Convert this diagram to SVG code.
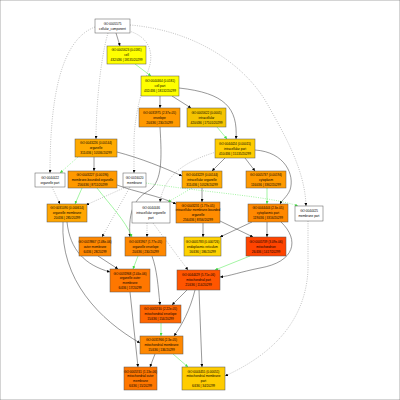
<svg xmlns="http://www.w3.org/2000/svg" width="400" height="400" viewBox="0 0 400 400">
<defs>
<marker id="ab" viewBox="0 0 10 10" refX="10" refY="5" markerWidth="3" markerHeight="3" orient="auto" markerUnits="userSpaceOnUse"><path d="M0,0 L10,5 L0,10 z" fill="#000"/></marker>
<marker id="ag" viewBox="0 0 10 10" refX="10" refY="5" markerWidth="3" markerHeight="3" orient="auto" markerUnits="userSpaceOnUse"><path d="M0,0 L10,5 L0,10 z" fill="#44dd44"/></marker>
</defs>
<style>
rect{stroke:#555;stroke-width:0.5}
text{font-family:"Liberation Sans",Arial,sans-serif;font-size:3.1px;text-anchor:middle;fill:#000}
.e{fill:none;stroke:#444;stroke-width:0.55;marker-end:url(#ab)}
.g{fill:none;stroke:#66ee66;stroke-width:0.6;marker-end:url(#ag)}
.d{fill:none;stroke:#999;stroke-width:0.6;stroke-dasharray:1 1.3;marker-end:url(#ab)}
.gd{fill:none;stroke:#66ee66;stroke-width:0.6;stroke-dasharray:1 1.3;marker-end:url(#ag)}
</style>
<rect width="400" height="400" fill="#fff" stroke="none"/>
<g id="edges">
<path class="e" d="M116,33 L120,46"/>
<path class="g" d="M135,64 L151,76"/>
<path class="e" d="M160,96 L160,108"/>
<path class="e" d="M172,96 L191,108"/>
<path class="e" d="M179,88 C225,93 238,108 236,139"/>
<path class="d" d="M95,27 C60,40 50,100 50,173"/>
<path class="d" d="M108,33 C100,60 96,110 96,139"/>
<path class="d" d="M129,31 C152,38 153,56 149,68 C143,88 135,110 134,140 L134,173"/>
<path class="d" d="M130,25 C190,30 240,60 265,100 C285,135 305,170 306,206"/>
<path class="e" d="M160,127 C162,160 162,180 150,190 C135,198 128,210 130,237"/>
<path class="g" d="M217,127 L227,139"/>
<path class="e" d="M225,158 L212,171"/>
<path class="e" d="M245,158 L255,171"/>
<path class="d" d="M216,152 C190,160 165,172 160,202"/>
<path class="e" d="M255,150 C285,152 295,175 290,190 C287,197 282,200 280,204"/>
<path class="e" d="M94,157 L94,171"/>
<path class="gd" d="M78,157 L60,173"/>
<path class="e" d="M117,152 C140,158 165,168 182,176"/>
<path class="e" d="M117,185 C135,192 160,196 176,204"/>
<path class="e" d="M202,188 L202,202"/>
<path class="gd" d="M192,188 L168,202"/>
<path class="g" d="M267,188 L267,204"/>
<path class="g" d="M82,188 L75,204"/>
<path class="g" d="M97,188 C110,205 125,220 132,237"/>
<path class="d" d="M130,187 L102,237"/>
<path class="d" d="M126,187 L86,205"/>
<path class="d" d="M52,187 L60,204"/>
<path class="gd" d="M146,183 C200,192 270,196 298,206"/>
<path class="d" d="M147,223 L147,237"/>
<path class="d" d="M153,223 L188,270"/>
<path class="e" d="M203,223 L203,237"/>
<path class="e" d="M220,221 L253,237"/>
<path class="e" d="M252,222 L220,237"/>
<path class="e" d="M267,222 L267,237"/>
<path class="g" d="M250,256 L215,270"/>
<path class="e" d="M281,222 C300,240 295,262 260,268 C240,272 230,276 220,277"/>
<path class="e" d="M98,256 L118,269"/>
<path class="g" d="M138,256 L133,269"/>
<path class="e" d="M67,222 C70,250 85,265 110,272"/>
<path class="e" d="M63,222 C60,280 100,320 140,343"/>
<path class="e" d="M152,256 C157,270 158,285 160,305"/>
<path class="e" d="M187,290 L172,305"/>
<path class="e" d="M195,290 C190,310 182,325 174,336"/>
<path class="e" d="M199,290 L202,367"/>
<path class="g" d="M161,323 L161,336"/>
<path class="e" d="M130,292 L138,367"/>
<path class="e" d="M155,354 L150,367"/>
<path class="g" d="M173,354 L188,367"/>
<path class="d" d="M308,221 L308,270 C305,330 260,360 225,376"/>
</g>
<g id="n_GO0005575"><rect x="95" y="19" width="35" height="14" fill="#fff"/><text x="112.5" y="24.6">GO:0005575</text><text x="112.5" y="29.6">cellular_component</text></g>
<g id="n_GO0005623"><rect x="107" y="46" width="39" height="18" fill="#ffff00"/><text x="126.5" y="51.1">GO:0005623 (0.0181)</text><text x="126.5" y="56.1">cell</text><text x="126.5" y="61.1">432/436 | 18135/20299</text></g>
<g id="n_GO0044464"><rect x="141" y="76" width="38" height="20" fill="#ffff00"/><text x="160" y="82.1">GO:0044464 (0.0181)</text><text x="160" y="87.1">cell part</text><text x="160" y="92.1">432/436 | 18132/20299</text></g>
<g id="n_GO0031975"><rect x="139" y="108" width="41" height="19" fill="#ff9900"/><text x="159.5" y="113.6">GO:0031975 (2.37e-05)</text><text x="159.5" y="118.6">envelope</text><text x="159.5" y="123.6">20/436 | 230/20299</text></g>
<g id="n_GO0005622"><rect x="187" y="108" width="39" height="19" fill="#f5c400"/><text x="206.5" y="113.6">GO:0005622 (0.0005)</text><text x="206.5" y="118.6">intracellular</text><text x="206.5" y="123.6">420/436 | 17101/20299</text></g>
<g id="n_GO0044424"><rect x="215" y="139" width="40" height="19" fill="#ffcc00"/><text x="235" y="144.6">GO:0044424 (0.00015)</text><text x="235" y="149.6">intracellular part</text><text x="235" y="154.6">410/436 | 15135/20299</text></g>
<g id="n_GO0043226"><rect x="75" y="139" width="42" height="18" fill="#ffaa00"/><text x="96" y="144.1">GO:0043226 (0.00144)</text><text x="96" y="149.1">organelle</text><text x="96" y="154.1">311/436 | 10536/20299</text></g>
<g id="n_GO0044422"><rect x="35" y="173" width="30" height="14" fill="#fff"/><text x="50" y="178.6">GO:0044422</text><text x="50" y="183.6">organelle part</text></g>
<g id="n_GO0043227"><rect x="68" y="171" width="49" height="17" fill="#ff9900"/><text x="92.5" y="175.6">GO:0043227 (0.00196)</text><text x="92.5" y="180.6">membrane-bounded organelle</text><text x="92.5" y="185.6">256/436 | 8711/20299</text></g>
<g id="n_GO0016020"><rect x="123" y="173" width="23" height="14" fill="#fff"/><text x="134.5" y="178.6">GO:0016020</text><text x="134.5" y="183.6">membrane</text></g>
<g id="n_GO0043229"><rect x="182" y="171" width="40" height="17" fill="#ffaa00"/><text x="202" y="175.6">GO:0043229 (0.00144)</text><text x="202" y="180.6">intracellular organelle</text><text x="202" y="185.6">311/436 | 10528/20299</text></g>
<g id="n_GO0005737"><rect x="246" y="171" width="40" height="17" fill="#ff9900"/><text x="266" y="175.6">GO:0005737 (0.00194)</text><text x="266" y="180.6">cytoplasm</text><text x="266" y="185.6">116/436 | 3362/20299</text></g>
<g id="n_GO0031090"><rect x="47" y="204" width="40" height="18" fill="#ffa500"/><text x="67" y="209.1">GO:0031090 (0.000614)</text><text x="67" y="214.1">organelle membrane</text><text x="67" y="219.1">20/436 | 285/20299</text></g>
<g id="n_GO0044446"><rect x="132" y="202" width="38" height="21" fill="#fff"/><text x="151" y="208.6">GO:0044446</text><text x="151" y="213.6">intracellular organelle</text><text x="151" y="218.6">part</text></g>
<g id="n_GO0043231"><rect x="176" y="202" width="44" height="21" fill="#ff8c00"/><text x="198" y="206.7">GO:0043231 (1.77e-05)</text><text x="198" y="211.3">intracellular membrane-bounded</text><text x="198" y="215.9">organelle</text><text x="198" y="220.5">256/436 | 8706/20299</text></g>
<g id="n_GO0044444"><rect x="248" y="204" width="40" height="18" fill="#ff8800"/><text x="268" y="209.1">GO:0044444 (2.3e-05)</text><text x="268" y="214.1">cytoplasmic part</text><text x="268" y="219.1">119/436 | 3316/20299</text></g>
<g id="n_GO0044425"><rect x="295" y="206" width="28" height="15" fill="#fff"/><text x="309" y="212.1">GO:0044425</text><text x="309" y="217.1">membrane part</text></g>
<g id="n_GO0019867"><rect x="79" y="237" width="32" height="19" fill="#ff8800"/><text x="95" y="242.6">GO:0019867 (2.48e-06)</text><text x="95" y="247.6">outer membrane</text><text x="95" y="252.6">6/436 | 28/20299</text></g>
<g id="n_GO0031967"><rect x="125" y="237" width="41" height="19" fill="#ff8800"/><text x="145.5" y="242.6">GO:0031967 (1.77e-05)</text><text x="145.5" y="247.6">organelle envelope</text><text x="145.5" y="252.6">20/436 | 230/20299</text></g>
<g id="n_GO0005783"><rect x="184" y="237" width="37" height="19" fill="#ffd200"/><text x="202.5" y="242.6">GO:0005783 (0.000726)</text><text x="202.5" y="247.6">endoplasmic reticulum</text><text x="202.5" y="252.6">16/436 | 186/20299</text></g>
<g id="n_GO0005739"><rect x="246" y="237" width="40" height="19" fill="#ff4400"/><text x="266" y="242.6">GO:0005739 (3.09e-06)</text><text x="266" y="247.6">mitochondrion</text><text x="266" y="252.6">26/436 | 1417/20299</text></g>
<g id="n_GO0031968"><rect x="110" y="269" width="40" height="23" fill="#ff7700"/><text x="130" y="274.7">GO:0031968 (2.44e-06)</text><text x="130" y="279.3">organelle outer</text><text x="130" y="283.9">membrane</text><text x="130" y="288.5">6/436 | 17/20299</text></g>
<g id="n_GO0044429"><rect x="177" y="270" width="43" height="20" fill="#ff5500"/><text x="198.5" y="276.1">GO:0044429 (5.71e-06)</text><text x="198.5" y="281.1">mitochondrial part</text><text x="198.5" y="286.1">21/436 | 114/20299</text></g>
<g id="n_GO0005740"><rect x="140" y="305" width="41" height="18" fill="#ff6600"/><text x="160.5" y="310.1">GO:0005740 (2.22e-05)</text><text x="160.5" y="315.1">mitochondrial envelope</text><text x="160.5" y="320.1">15/436 | 154/20299</text></g>
<g id="n_GO0031966"><rect x="140" y="336" width="43" height="18" fill="#ff8800"/><text x="161.5" y="341.1">GO:0031966 (2.3e-05)</text><text x="161.5" y="346.1">mitochondrial membrane</text><text x="161.5" y="351.1">15/436 | 136/20299</text></g>
<g id="n_GO0005741"><rect x="124" y="367" width="33" height="23" fill="#ff7700"/><text x="140.5" y="372.7">GO:0005741 (1.13e-06)</text><text x="140.5" y="377.3">mitochondrial outer</text><text x="140.5" y="381.9">membrane</text><text x="140.5" y="386.5">6/436 | 15/20299</text></g>
<g id="n_GO0044455"><rect x="182" y="367" width="43" height="23" fill="#ffcc00"/><text x="203.5" y="372.7">GO:0044455 (0.00051)</text><text x="203.5" y="377.3">mitochondrial membrane</text><text x="203.5" y="381.9">part</text><text x="203.5" y="386.5">6/436 | 34/20299</text></g>
</svg>
